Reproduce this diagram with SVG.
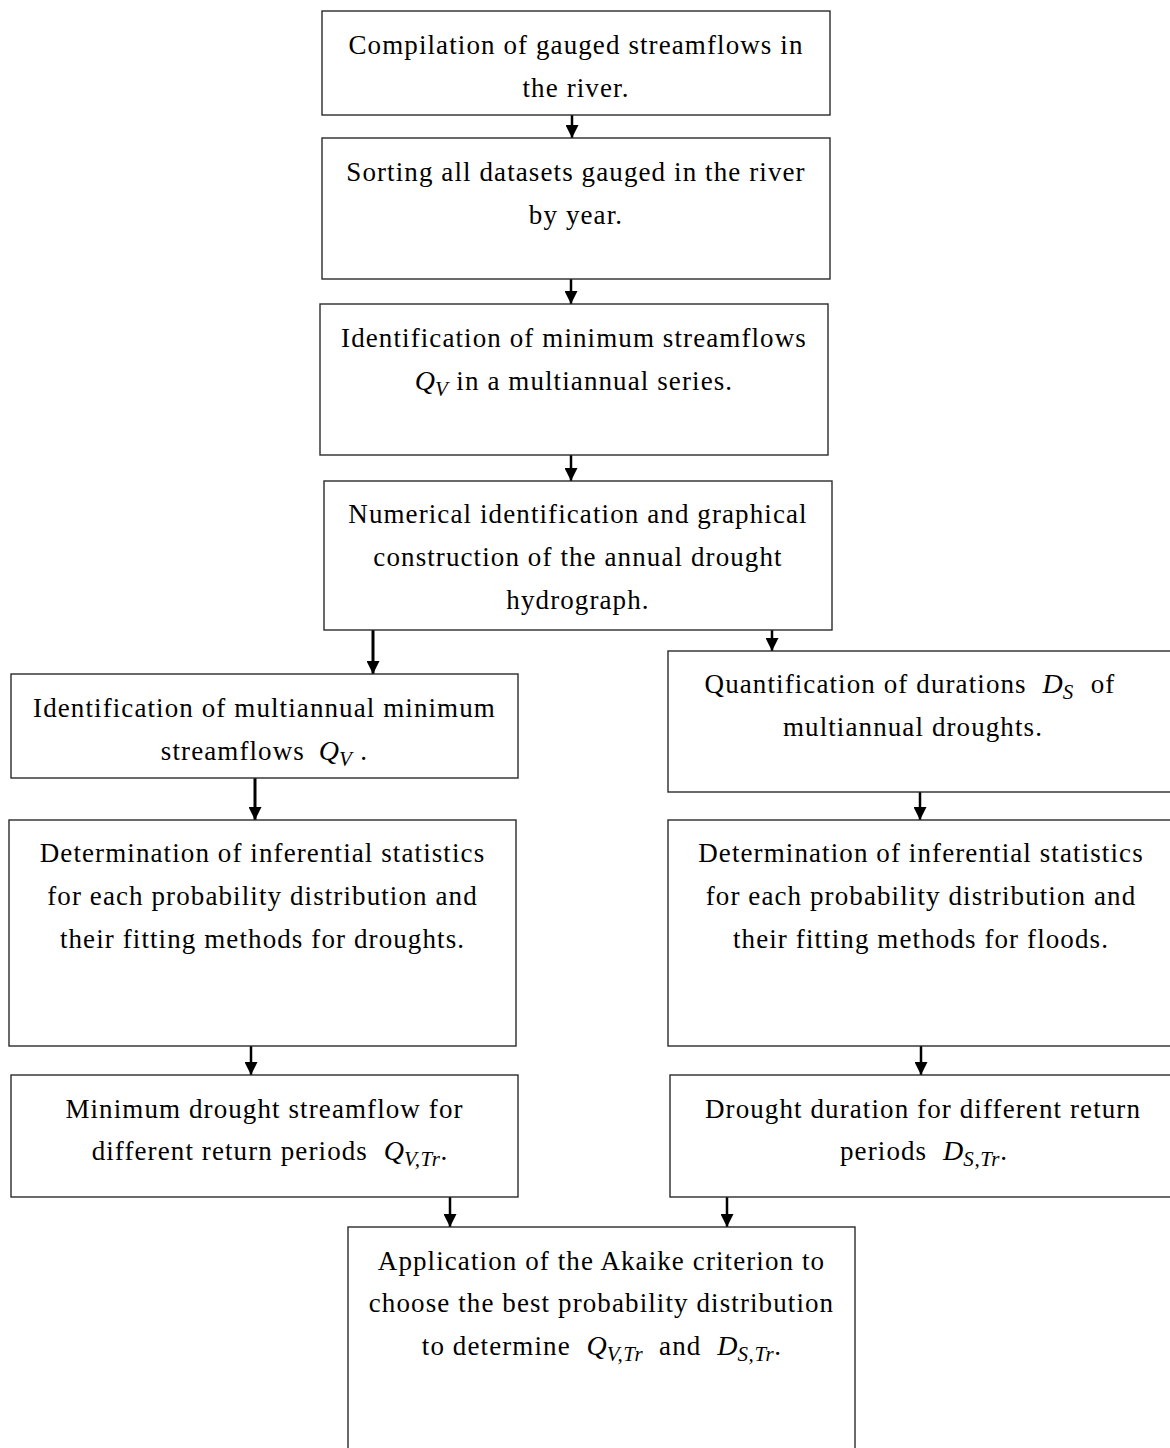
<svg xmlns="http://www.w3.org/2000/svg" width="1170" height="1448" viewBox="0 0 1170 1448">
<style>
.box{fill:#fff;stroke:#2b2b2b;stroke-width:1.4}
.t{font-family:"Liberation Serif","Times New Roman",serif;font-size:27px;letter-spacing:1.1px;text-anchor:middle;fill:#000}
.m{font-style:italic;font-size:28px;letter-spacing:0}
.s{font-style:italic;font-size:21px;letter-spacing:0.6px}
.c{stroke:#000;stroke-width:2.5;fill:none;marker-end:url(#ah)}
.c3{stroke-width:3}
</style>
<defs>
<marker id="ah" viewBox="0 0 10 10" refX="10" refY="5" markerWidth="13" markerHeight="13" markerUnits="userSpaceOnUse" orient="auto">
<path d="M0,0 L10,5 L0,10 z" fill="#000"/>
</marker>
</defs>
<rect width="1170" height="1448" fill="#fff"/>

<g id="connectors">
<line class="c" x1="572" y1="115" x2="572" y2="138"/>
<line class="c" x1="571" y1="279" x2="571" y2="304"/>
<line class="c" x1="571" y1="455" x2="571" y2="481"/>
<line class="c c3" x1="373" y1="622" x2="373" y2="674"/>
<line class="c" x1="772" y1="622" x2="772" y2="651"/>
<line class="c c3" x1="255" y1="778" x2="255" y2="820"/>
<line class="c" x1="920" y1="792" x2="920" y2="820"/>
<line class="c" x1="251" y1="1046" x2="251" y2="1075"/>
<line class="c" x1="921" y1="1046" x2="921" y2="1075"/>
<line class="c" x1="450" y1="1197" x2="450" y2="1227"/>
<line class="c" x1="727" y1="1197" x2="727" y2="1227"/>
</g>

<g id="n1">
<rect class="box" x="322" y="11" width="508" height="104"/>
<text class="t" x="576" y="54">Compilation of gauged streamflows in</text>
<text class="t" x="576" y="96.5">the river.</text>
</g>

<g id="n2">
<rect class="box" x="322" y="138" width="508" height="141"/>
<text class="t" x="576" y="181">Sorting all datasets gauged in the river</text>
<text class="t" x="576" y="223.5">by year.</text>
</g>

<g id="n3">
<rect class="box" x="320" y="304" width="508" height="151"/>
<text class="t" x="574" y="347">Identification of minimum streamflows</text>
<text class="t" x="574" y="389.5"><tspan class="m">Q</tspan><tspan class="s" dy="6">V</tspan><tspan dy="-6"> in a multiannual series.</tspan></text>
</g>

<g id="n4">
<rect class="box" x="324" y="481" width="508" height="149"/>
<text class="t" x="578" y="523">Numerical identification and graphical</text>
<text class="t" x="578" y="566">construction of the annual drought</text>
<text class="t" x="578" y="609">hydrograph.</text>
</g>

<g id="n5">
<rect class="box" x="11" y="674" width="507" height="104"/>
<text class="t" x="264.5" y="717">Identification of multiannual minimum</text>
<text class="t" x="264.5" y="759.5">streamflows <tspan class="m" dx="6">Q</tspan><tspan class="s" dy="6">V</tspan><tspan dy="-6"> .</tspan></text>
</g>

<g id="n6">
<rect class="box" x="668" y="651" width="504" height="141"/>
<text class="t" x="910" y="693">Quantification of durations <tspan class="m" dx="8">D</tspan><tspan class="s" dy="6">S</tspan><tspan dy="-6" dx="9"> of</tspan></text>
<text class="t" x="913" y="736">multiannual droughts.</text>
</g>

<g id="n7">
<rect class="box" x="9" y="820" width="507" height="226"/>
<text class="t" x="262.5" y="862">Determination of inferential statistics</text>
<text class="t" x="262.5" y="905">for each probability distribution and</text>
<text class="t" x="262.5" y="948">their fitting methods for droughts.</text>
</g>

<g id="n8">
<rect class="box" x="668" y="820" width="504" height="226"/>
<text class="t" x="921" y="862">Determination of inferential statistics</text>
<text class="t" x="921" y="905">for each probability distribution and</text>
<text class="t" x="921" y="948">their fitting methods for floods.</text>
</g>

<g id="n9">
<rect class="box" x="11" y="1075" width="507" height="122"/>
<text class="t" x="264.5" y="1118">Minimum drought streamflow for</text>
<text class="t" x="270" y="1160">different return periods <tspan class="m" dx="8">Q</tspan><tspan class="s" dy="6">V,Tr</tspan><tspan dy="-6">.</tspan></text>
</g>

<g id="n10">
<rect class="box" x="670" y="1075" width="502" height="122"/>
<text class="t" x="923" y="1118">Drought duration for different return</text>
<text class="t" x="924" y="1160">periods <tspan class="m" dx="8">D</tspan><tspan class="s" dy="6">S,Tr</tspan><tspan dy="-6">.</tspan></text>
</g>

<g id="n11">
<rect class="box" x="348" y="1227" width="507" height="240"/>
<text class="t" x="601.5" y="1270">Application of the Akaike criterion to</text>
<text class="t" x="601.5" y="1312">choose the best probability distribution</text>
<text class="t" x="602" y="1355">to determine <tspan class="m" dx="8">Q</tspan><tspan class="s" dy="6">V,Tr</tspan><tspan dy="-6" dx="8"> and </tspan><tspan class="m" dx="8">D</tspan><tspan class="s" dy="6">S,Tr</tspan><tspan dy="-6">.</tspan></text>
</g>
</svg>
